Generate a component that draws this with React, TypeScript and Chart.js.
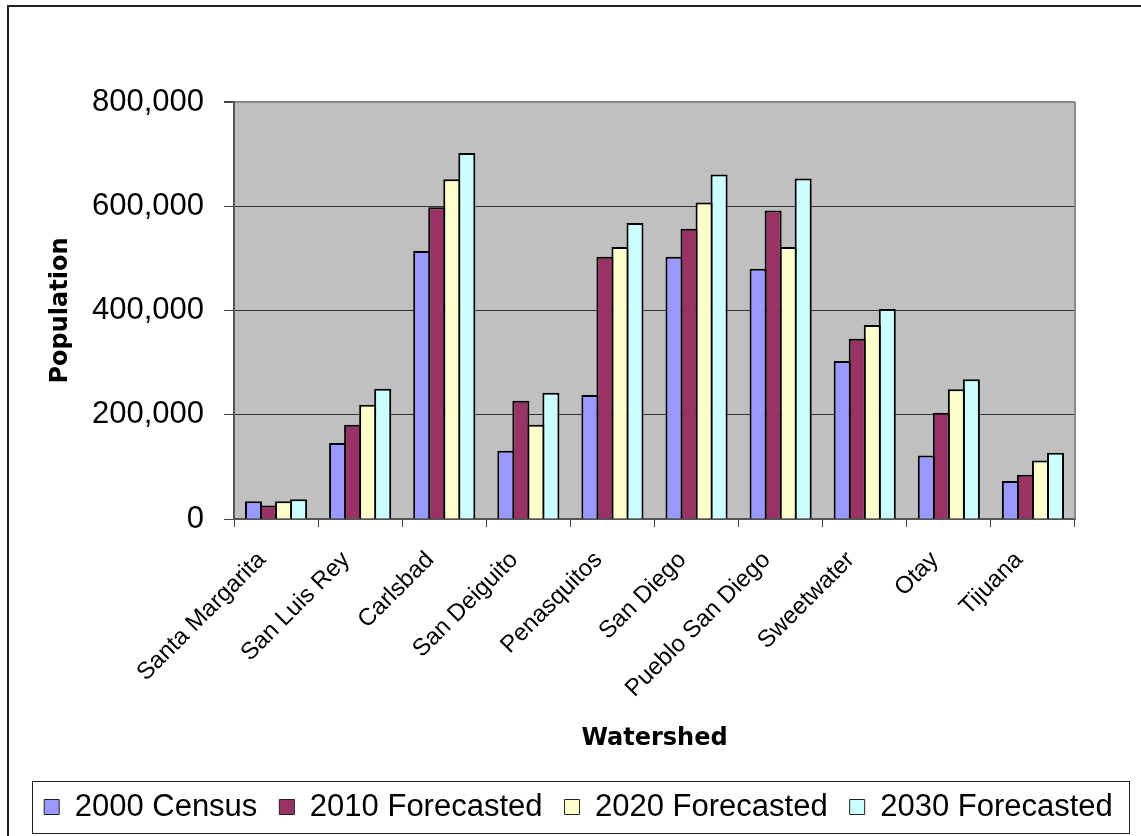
import React, { useEffect, useRef } from 'react';
import { Chart, registerables } from 'chart.js';

Chart.register(...registerables);

const categories = [
  'Santa Margarita',
  'San Luis Rey',
  'Carlsbad',
  'San Deiguito',
  'Penasquitos',
  'San Diego',
  'Pueblo San Diego',
  'Sweetwater',
  'Otay',
  'Tijuana',
];
const census2000 = [34000, 146000, 514000, 131000, 238000, 503000, 480000, 303000, 122000, 73000];
const forecast2010 = [26000, 181000, 598000, 227000, 503000, 557000, 592000, 346000, 204000, 85000];
const forecast2020 = [34000, 219000, 652000, 181000, 522000, 607000, 522000, 372000, 249000, 112000];
const forecast2030 = [38000, 250000, 702000, 242000, 568000, 661000, 653000, 403000, 268000, 127000];
const seriesNames = ['2000 Census', '2010 Forecasted', '2020 Forecasted', '2030 Forecasted'];
const seriesColors = ['#9999FF', '#993366', '#FFFFCC', '#CCFFFF'];
const yMin = 0;
const yMax = 800000;
const yStep = 200000;

const W = 1141;
const H = 836;

const framePlugin = {
  id: 'framePlugin',
  beforeDraw(chart: any) {
    const { ctx, chartArea: a } = chart;
    ctx.save();
    ctx.fillStyle = '#C0C0C0';
    ctx.fillRect(a.left, a.top, a.right - a.left, a.bottom - a.top);
    ctx.restore();
  },
  beforeDatasetsDraw(chart: any) {
    const { ctx, chartArea: a } = chart;
    ctx.save();
    ctx.strokeStyle = '#8a8a8a';
    ctx.lineWidth = 2;
    ctx.beginPath();
    ctx.moveTo(a.right, a.top);
    ctx.lineTo(a.right, a.bottom);
    ctx.stroke();
    ctx.restore();
  },
  afterDraw(chart: any) {
    const lg = chart.legend;
    if (!lg || !lg.legendHitBoxes || !lg.legendHitBoxes.length) return;
    const hb = lg.legendHitBoxes;
    let l = Infinity, r = -Infinity, t = Infinity, b = -Infinity;
    hb.forEach((h: any) => {
      l = Math.min(l, h.left);
      r = Math.max(r, h.left + h.width);
      t = Math.min(t, h.top);
      b = Math.max(b, h.top + h.height);
    });
    const { ctx } = chart;
    ctx.save();
    ctx.strokeStyle = '#222';
    ctx.lineWidth = 1;
    ctx.strokeRect(Math.round(l - 12) + 0.5, Math.round(t - 10.5) + 0.5, Math.round(r - l + 28), Math.round(b - t + 21));
    ctx.restore();
  },
};

export default function App() {
  const ref = useRef<HTMLCanvasElement | null>(null);

  useEffect(() => {
    if (!ref.current) return;
    const seriesValues = [census2000, forecast2010, forecast2020, forecast2030];
    const chart = new Chart(ref.current, {
      type: 'bar',
      data: {
        labels: categories,
        datasets: seriesNames.map((name, i) => ({
          label: name,
          data: seriesValues[i],
          backgroundColor: seriesColors[i],
          borderColor: '#000',
          borderWidth: { top: 2, left: 2, right: 2, bottom: 0 },
          borderSkipped: false,
          barPercentage: 1.133,
          categoryPercentage: 0.715,
          yAxisID: 'y',
        })),
      },
      options: {
        responsive: false,
        animation: false,
        devicePixelRatio: 1,
        layout: { padding: { left: 16, right: 0, top: 102, bottom: 3.5 } },
        plugins: {
          tooltip: { enabled: false },
          legend: {
            position: 'bottom',
            labels: {
              boxWidth: 15,
              boxHeight: 15,
              padding: 22,
              color: '#000',
              font: { family: "'Liberation Sans', Arial, sans-serif", size: 31 },
              generateLabels: (c: any) =>
                (Chart.defaults.plugins.legend.labels.generateLabels as any)(c).map((it: any) => ({
                  ...it,
                  lineWidth: 1,
                  strokeStyle: '#222',
                })),
            },
          },
        },
        scales: {
          x: {
            grid: {
              display: true,
              drawOnChartArea: false,
              drawTicks: true,
              tickLength: 8,
              tickColor: '#444',
              offset: true,
            },
            border: { color: '#555', width: 2 },
            ticks: {
              autoSkip: false,
              minRotation: 45,
              maxRotation: 45,
              padding: 19,
              labelOffset: -14,
              color: '#000',
              font: { family: "'Liberation Sans', Arial, sans-serif", size: 24 },
            },
            title: {
              display: true,
              text: 'Watershed',
              color: '#000',
              font: { family: "'DejaVu Sans', sans-serif", size: 24, weight: 'bold' },
              padding: { top: 0, bottom: 16 },
            },
            afterFit: (s: any) => {
              s.height = 250.5;
            },
          },
          y: {
            position: 'left',
            min: yMin,
            max: yMax,
            ticks: {
              stepSize: yStep,
              padding: 20,
              color: '#000',
              font: { family: "'Liberation Sans', Arial, sans-serif", size: 31 },
              callback: (v: any) => Number(v).toLocaleString('en-US'),
            },
            grid: {
              color: (c: any) => (c.tick && c.tick.value === yMax ? '#8a8a8a' : '#333'),
              lineWidth: (c: any) => (c.tick && c.tick.value === yMax ? 2 : 1),
              tickColor: '#444',
              tickLength: 10,
              drawTicks: true,
            },
            border: { color: '#555', width: 2 },
            title: {
              display: true,
              text: 'Population',
              color: '#000',
              font: { family: "'DejaVu Sans', sans-serif", size: 24, weight: 'bold' },
              padding: { top: 30, bottom: 0 },
            },
            afterFit: (s: any) => {
              s.width = 234 - 16;
            },
          },
          yRight: {
            position: 'right',
            display: true,
            min: yMin,
            max: yMax,
            grid: { display: false, drawTicks: false },
            border: { display: false },
            ticks: { display: false },
            afterFit: (s: any) => {
              s.width = 66;
            },
          },
        },
      },
      plugins: [framePlugin],
    } as any);
    return () => chart.destroy();
  }, []);

  return (
    <div style={{ position: 'absolute', left: 0, top: 0, width: W, height: H, overflow: 'hidden', background: '#fff' }}>
      <div
        style={{
          position: 'absolute',
          left: 7,
          top: 5,
          width: 1400,
          height: 1100,
          border: '2px solid #222',
          boxSizing: 'border-box',
        }}
      />
      <canvas ref={ref} width={W} height={H} style={{ position: 'absolute', left: 0, top: 0, width: W, height: H }} />
    </div>
  );
}
